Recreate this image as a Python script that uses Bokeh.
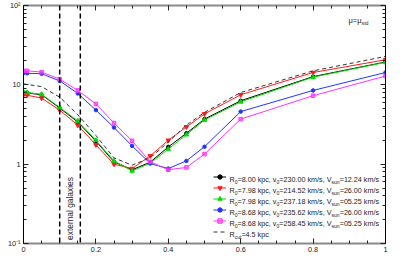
import math
import numpy as np
from bokeh.plotting import figure
from bokeh.models import (LinearAxis, LogAxis, FixedTicker, Span, Label,
                          Legend, LegendItem)
from bokeh.core.properties import value
from bokeh.embed import file_html
from bokeh.resources import INLINE

# ---------------- data ----------------
a0 = [0, 0.01, 0.05, 0.1, 0.15, 0.2, 0.25, 0.3, 0.35, 0.4, 0.45, 0.5, 0.6, 0.8, 1.0]
chi_black = [8.0, 7.9, 7.5, 5.1, 3.4, 1.95, 1.07, 0.85, 1.06, 1.65, 2.45, 3.7, 6.3, 12.7, 19.4]
chi_red = [7.5, 7.4, 6.8, 4.8, 3.1, 1.75, 1.0, 0.88, 1.27, 2.0, 2.95, 4.3, 7.5, 14.3, 20.7]
chi_green = [8.1, 8.0, 7.6, 5.2, 3.5, 2.0, 1.1, 0.82, 1.03, 1.55, 2.35, 3.6, 6.1, 12.5, 19.2]
chi_blue = [14.1, 14.0, 13.8, 11.2, 7.8, 4.8, 2.9, 1.7, 1.02, 0.88, 1.1, 1.66, 4.6, 8.5, 14.3]
chi_magenta = [15.0, 15.0, 14.5, 11.8, 8.5, 5.75, 3.3, 1.97, 1.07, 0.85, 0.91, 1.34, 3.7, 7.3, 12.9]
chi_rcut = [10.3, 10.1, 9.5, 7.0, 4.2, 2.3, 1.2, 0.97, 1.2, 1.9, 3.1, 4.5, 8.0, 15.0, 22.8]

ext_lines = [0.1, 0.157]

R0_vals = ["8.00", "7.98", "7.98", "8.68", "8.68"]
v0_vals = ["230.00", "214.52", "237.18", "235.62", "258.45"]
vsun_vals = ["12.24", "26.00", "05.25", "26.00", "05.25"]
rcut_val = "4.5"

x_ticks = [0, 0.2, 0.4, 0.6, 0.8, 1.0]
x_tick_labels = ["0", "0.2", "0.4", "0.6", "0.8", "1"]
y_ticks = [0.1, 1.0, 10.0, 100.0]
y_tick_labels = ["10\u207b\u00b9", "1", "10", "10\u00b2"]

FONT = "Liberation Sans"
TXT = "#222222"

p = figure(width=407, height=264, x_range=(0, 1), y_range=(0.1, 100),
           y_axis_type="log", output_backend="svg", toolbar_location=None,
           min_border_left=23, min_border_right=22, min_border_top=5,
           min_border_bottom=21)
p.margin = (0, 0, 0, 0)
p.outline_line_color = None
p.xgrid.visible = False
p.ygrid.visible = False
p.background_fill_color = "white"

x_minor = [round(v, 2) for v in np.arange(0, 1.0001, 0.05)]
y_minor = [k * 10.0 ** d for d in range(-1, 2) for k in range(2, 10)]
xt = FixedTicker(ticks=x_ticks, minor_ticks=x_minor)
yt = FixedTicker(ticks=y_ticks, minor_ticks=y_minor)

xa = p.xaxis[0]
ya = p.yaxis[0]
xa.ticker = xt
ya.ticker = yt
xa.major_label_overrides = {float(t): l for t, l in zip(x_ticks, x_tick_labels)}
ya.major_label_overrides = {float(t): l for t, l in zip(y_ticks, y_tick_labels)}

top = LinearAxis(ticker=xt)
right = LogAxis(ticker=yt)
top.major_label_overrides = {float(t): "" for t in x_ticks}
right.major_label_overrides = {float(t): "" for t in y_ticks}
p.add_layout(top, "above")
p.add_layout(right, "right")

for ax in (xa, ya, top, right):
    ax.major_tick_in = 5
    ax.major_tick_out = 0
    ax.minor_tick_in = 3
    ax.minor_tick_out = 0
    ax.major_tick_line_color = "#222222"
    ax.minor_tick_line_color = "#222222"
    ax.major_label_text_font = FONT
    ax.major_label_text_color = TXT
xa.major_label_text_font_size = "7.3px"
ya.major_label_text_font_size = "7.3px"
top.major_label_text_font_size = "1px"
right.major_label_text_font_size = "1px"
top.major_label_standoff = 0
right.major_label_standoff = 0
for ax in (xa, top):
    ax.axis_line_color = "#8a8a8a"
    ax.axis_line_width = 2
for ax in (ya, right):
    ax.axis_line_color = "#000000"
    ax.axis_line_width = 1
xa.major_label_standoff = 3
ya.major_label_standoff = 3

# vertical dashed lines
for xv in ext_lines:
    p.add_layout(Span(location=xv, dimension="height", line_color="black",
                      line_width=1.5, line_dash="5 3"))

series = [
    (chi_black, "#000000", "circle", 3.5),
    (chi_red, "#ff1a1a", "inverted_triangle", 4.5),
    (chi_green, "#00dd00", "triangle", 4.5),
    (chi_blue, "#2233ff", "circle", 3.5),
    (chi_magenta, "#ff33ff", "square", 3.5),
]
items = []
for ys, col, mk, sz in series:
    l = p.line(a0, ys, line_color=col, line_width=1)
    s = p.scatter(a0, ys, marker=mk, size=sz, line_color=col, fill_color=col,
                  fill_alpha=0.6 if mk == "square" else 1.0)
    items.append(LegendItem(label=value(" "), renderers=[l, s]))
ld = p.line(a0, chi_rcut, line_color="#333333", line_width=1, line_dash="4 3")
items.append(LegendItem(label=value(" "), renderers=[ld]))

legend = Legend(items=items, location=(190, 6), glyph_width=13, glyph_height=11,
                label_height=11, label_width=1, spacing=0, padding=0, margin=0,
                label_standoff=0, background_fill_alpha=0, border_line_alpha=0,
                label_text_font_size="7px")
p.add_layout(legend)

# ---------------- rich text helper ----------------
W = {' ': 278, ',': 278, '.': 278, '/': 278, '=': 584, 'R': 722, 'V': 667,
     'N': 722, 'k': 500, 'p': 556, 'c': 500, 'v': 500, 'm': 833, 's': 500,
     'u': 556, 'n': 556, 't': 278, 'a': 556, 'd': 556, '[': 278, ']': 278,
     '\u00d7': 584, '\u2212': 584, '\u03bc': 576, '\u03c7': 520}


def tw(text, fs):
    return sum(W.get(c, 556) for c in text) * fs / 1000.0


def rich(pieces, x, y, xo, yo, size, angle=0.0, align_right=False, color=TXT):
    if align_right:
        total = sum(tw(t, size if k == "n" else size * 0.7) for t, k in pieces)
        xo -= total
    cur = 0.0
    for text, kind in pieces:
        fs = size if kind == "n" else size * 0.7
        dy = 0.0 if kind == "n" else (-0.3 * size if kind == "sub" else 0.42 * size)
        if angle == 0:
            lab = Label(x=x, y=y, x_offset=xo + cur, y_offset=yo + dy, text=text)
        else:
            lab = Label(x=x, y=y, x_offset=xo - dy, y_offset=yo + cur, text=text,
                        angle=angle)
        lab.text_font = FONT
        lab.text_font_size = f"{fs:.2f}px"
        lab.text_baseline = "alphabetic"
        lab.text_align = "left"
        lab.text_color = color
        p.add_layout(lab)
        cur += tw(text, fs)


xmax, ymin, ymax = 1.0, 0.1, 100.0

# legend texts
for i, (r0, v0, vs) in enumerate(zip(R0_vals, v0_vals, vsun_vals)):
    rich([("R", "n"), ("0", "sub"), (f"={r0} kpc, v", "n"), ("0", "sub"),
          (f"={v0} km/s, V", "n"), ("sun", "sub"), (f"={vs} km/s", "n")],
         xmax, ymin, -156, 64 - 11 * i, 7.2)
rich([("R", "n"), ("cut", "sub"), (f"={rcut_val} kpc", "n")],
     xmax, ymin, -156, 64 - 11 * 5, 7.2)

# mu = mu_std
rich([("\u03bc=\u03bc", "n"), ("std", "sub")], xmax, ymax, -37, -15, 7.5)
# x10^-9
rich([("\u00d710", "n"), ("\u22129", "sup")], xmax, ymin, 1, -1, 7.5)
# x axis title
rich([("a", "n"), ("0", "sub"), (" [m/s", "n"), ("2", "sup"), ("]", "n")],
     xmax, ymin, 1, -15.5, 8, align_right=True)
# y axis title
rich([("\u03c7", "n"), ("2", "sup"), ("/N", "n")], 0.0, ymax, -11, -18, 8,
     angle=math.pi / 2)

# external galaxies
p.add_layout(Label(x=sum(ext_lines) / 2, y=ymin, y_offset=35, angle=math.pi / 2,
                   text="external galaxies", text_align="center",
                   text_baseline="middle", text_font=FONT,
                   text_font_size="8.4px", text_color=TXT))

open("out.html", "w").write(file_html(p, INLINE))
